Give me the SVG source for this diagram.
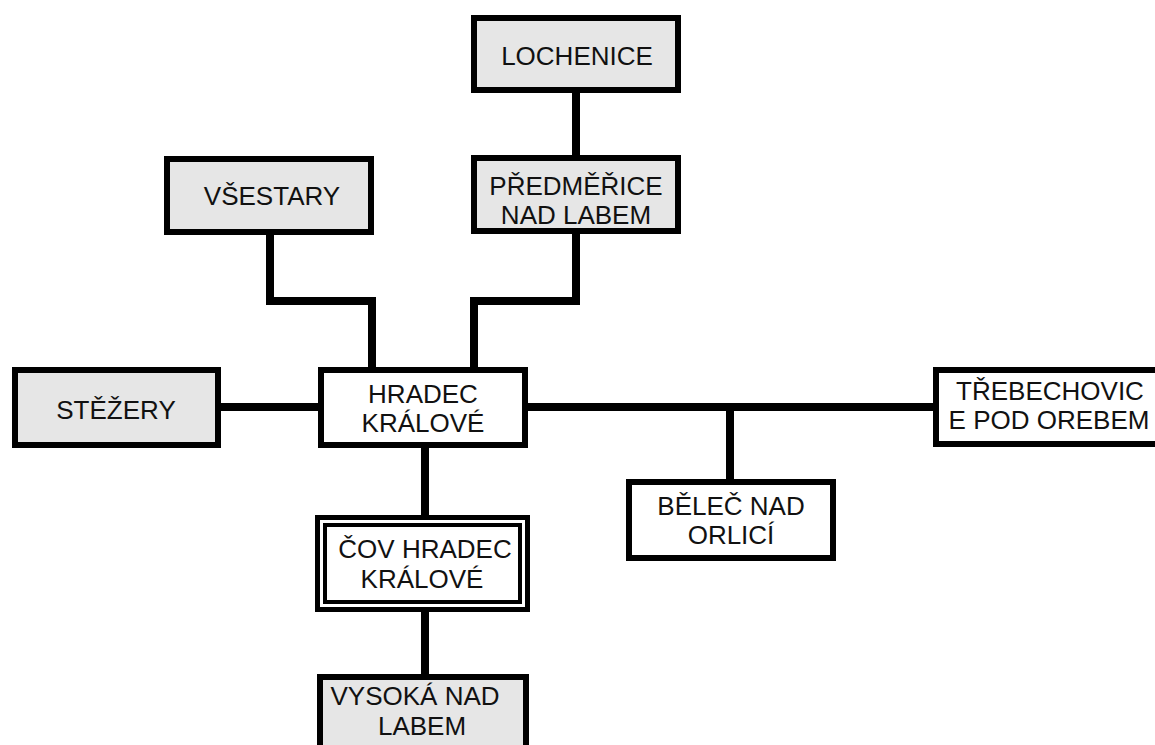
<svg xmlns="http://www.w3.org/2000/svg" width="1155" height="745" viewBox="0 0 1155 745">
  <style>
    .box { stroke: #000; stroke-width: 6; }
    .grey { fill: #e6e6e6; }
    .white { fill: #fff; }
    .lbl { font-family: "Liberation Sans", Arial, sans-serif; font-size: 26px; fill: #111; text-anchor: middle; }
    .wire { fill: none; stroke: #000; stroke-width: 8; stroke-linejoin: miter; stroke-linecap: butt; }
  </style>
  <rect width="1155" height="745" fill="#fff"/>

  <!-- connectors -->
  <g id="connectors">
    <path class="wire" d="M576 93 V155"/>
    <path class="wire" d="M270 235 V301 H372 V367"/>
    <path class="wire" d="M576 233 V301 H474 V367"/>
    <path class="wire" d="M221 407 H318"/>
    <path class="wire" d="M528 407 H933"/>
    <path class="wire" d="M730 407 V479"/>
    <path class="wire" d="M425 448 V515"/>
    <path class="wire" d="M425 612 V674"/>
  </g>

  <g id="lochenice">
    <rect class="box grey" x="474" y="18" width="204" height="72"/>
    <text class="lbl" x="577" y="65">LOCHENICE</text>
  </g>

  <g id="predmerice">
    <rect class="box grey" x="474" y="158" width="204" height="73"/>
    <text class="lbl" x="576" y="195">PŘEDMĚŘICE</text>
    <text class="lbl" x="576" y="224">NAD LABEM</text>
  </g>

  <g id="vsestary">
    <rect class="box grey" x="167" y="159" width="204" height="73"/>
    <text class="lbl" x="272" y="205">VŠESTARY</text>
  </g>

  <g id="stezery">
    <rect class="box grey" x="15" y="370" width="203" height="75"/>
    <text class="lbl" x="116" y="419">STĚŽERY</text>
  </g>

  <g id="hradec-kralove">
    <rect class="box white" x="321" y="370" width="204" height="75"/>
    <text class="lbl" x="423" y="403">HRADEC</text>
    <text class="lbl" x="423" y="432">KRÁLOVÉ</text>
  </g>

  <g id="trebechovice">
    <rect class="box white" x="936" y="370" width="230" height="74"/>
    <text class="lbl" x="1050" y="400">TŘEBECHOVIC</text>
    <text class="lbl" x="1049" y="429">E POD OREBEM</text>
  </g>

  <g id="belec">
    <rect class="box white" x="629" y="482" width="204" height="76"/>
    <text class="lbl" x="731" y="515">BĚLEČ NAD</text>
    <text class="lbl" x="731" y="544">ORLICÍ</text>
  </g>

  <g id="cov-hradec-kralove">
    <rect fill="#fff" stroke="#000" stroke-width="5" x="317.5" y="517.5" width="210" height="92"/>
    <rect fill="#fff" stroke="#000" stroke-width="4" x="325" y="525" width="195" height="77"/>
    <text class="lbl" x="425" y="558">ČOV HRADEC</text>
    <text class="lbl" x="422" y="588">KRÁLOVÉ</text>
  </g>

  <g id="vysoka">
    <rect class="box grey" x="320" y="677" width="206" height="80"/>
    <text class="lbl" x="415" y="705">VYSOKÁ NAD</text>
    <text class="lbl" x="422" y="735">LABEM</text>
  </g>
</svg>
